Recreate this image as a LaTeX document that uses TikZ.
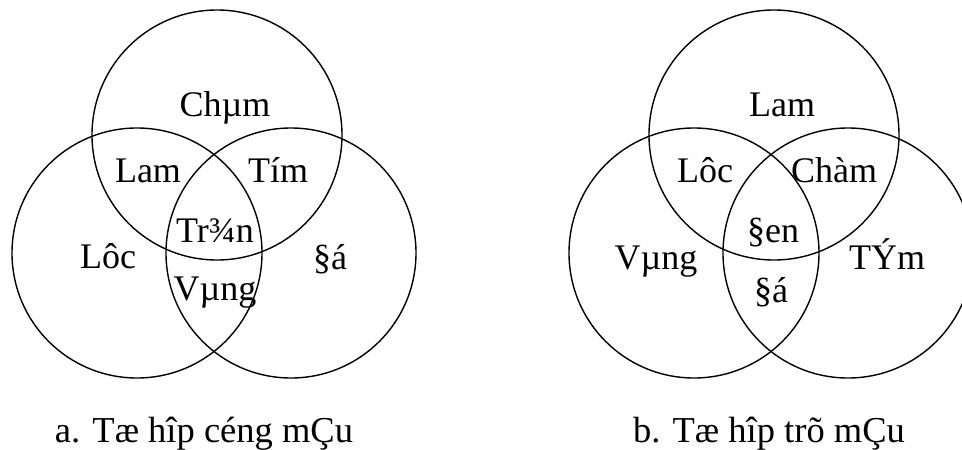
\documentclass[tikz,border=0pt]{standalone}
\usepackage{fontspec}
\setmainfont{Liberation Serif}
\begin{document}
\begin{tikzpicture}[x=1pt,y=-1pt,
  ring/.style={draw=black,line width=1.4pt},
  lbl/.style={anchor=base,inner sep=0pt,font=\fontsize{36}{40}\selectfont},
  captxt/.style={anchor=base,inner sep=0pt,font=\fontsize{36.5}{40}\selectfont}]
\useasboundingbox (0,0) rectangle (962,450);
% diagram a
\draw[ring] (217,135) circle [radius=125pt];
\draw[ring] (137,253) circle [radius=125pt];
\draw[ring] (291,253) circle [radius=125pt];
\node[lbl] (a1) at (225,116) {Chµm};
\node[lbl] (a2) at (148,182) {Lam};
\node[lbl] (a3) at (278,182) {Tím};
\node[lbl] (a4) at (215,242) {Tr¾n};
\node[lbl] (a5) at (108,268) {Lôc};
\node[lbl] (a6) at (330,269) {§á};
\node[lbl] (a7) at (215,300) {Vµng};
\node[captxt] (ca) at (204,442) {a. Tæ hîp céng mÇu};
% diagram b
\draw[ring] (774,135) circle [radius=125pt];
\draw[ring] (694,253) circle [radius=125pt];
\draw[ring] (848,253) circle [radius=125pt];
\node[lbl] (b1) at (782,116) {Lam};
\node[lbl] (b2) at (705,182) {Lôc};
\node[lbl] (b3) at (834,182) {Chàm};
\node[lbl] (b4) at (773,242) {§en};
\node[lbl] (b5) at (656,269) {Vµng};
\node[lbl] (b6) at (887,269) {TÝm};
\node[lbl] (b7) at (771,302) {§á};
\node[captxt] (cb) at (769,442) {b. Tæ hîp trõ mÇu};
\end{tikzpicture}
\end{document}
